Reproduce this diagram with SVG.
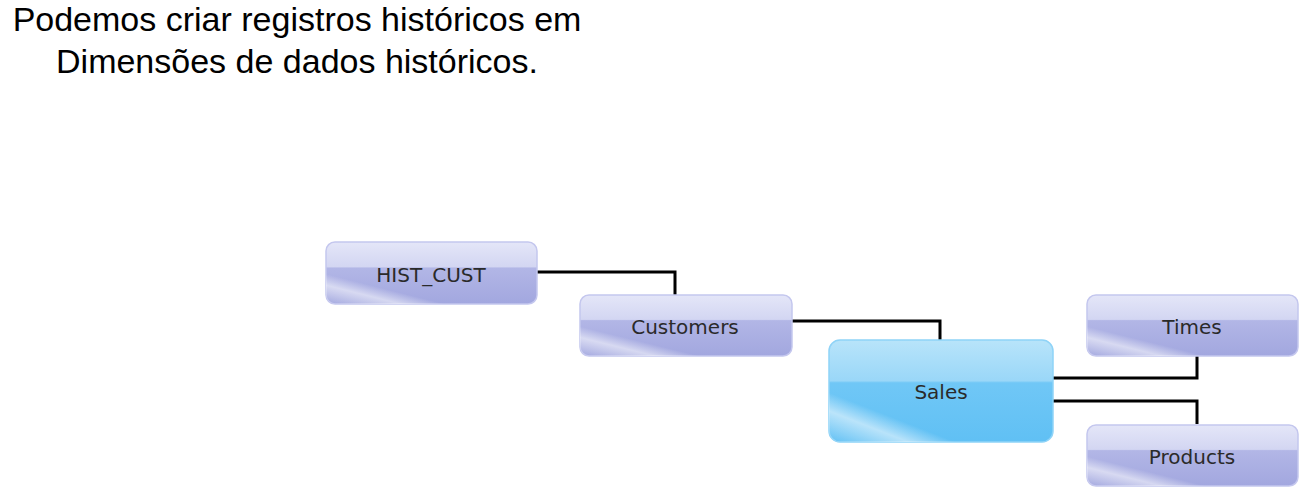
<svg xmlns="http://www.w3.org/2000/svg" width="1300" height="487" viewBox="0 0 1300 487">
<defs>
<linearGradient id="gDim" x1="0" y1="0" x2="0" y2="1">
<stop offset="0" stop-color="#e4e6f8"/>
<stop offset="0.4" stop-color="#d3d6f2"/>
<stop offset="0.42" stop-color="#b2b6e6"/>
<stop offset="1" stop-color="#a2a7df"/>
</linearGradient>
<linearGradient id="gFact" x1="0" y1="0" x2="0" y2="1">
<stop offset="0" stop-color="#b8e4fa"/>
<stop offset="0.4" stop-color="#9ad7f8"/>
<stop offset="0.42" stop-color="#70c7f6"/>
<stop offset="1" stop-color="#60c0f4"/>
</linearGradient>
<linearGradient id="gShine" x1="0" y1="1" x2="0.6" y2="0.3">
<stop offset="0" stop-color="#ffffff" stop-opacity="0"/>
<stop offset="0.25" stop-color="#ffffff" stop-opacity="0.55"/>
<stop offset="0.4" stop-color="#ffffff" stop-opacity="0"/>
<stop offset="1" stop-color="#ffffff" stop-opacity="0"/>
</linearGradient>
</defs>
<style>
.title{font-family:"Liberation Sans",Arial,sans-serif;font-size:34px;fill:#000}
.lbl{font-family:"DejaVu Sans",Verdana,sans-serif;font-size:20px;fill:#2a2a2a;text-anchor:middle}
.dim{fill:url(#gDim);stroke:#c4c7ee;stroke-width:1.5}
.fact{fill:url(#gFact);stroke:#8fd3f7;stroke-width:1.5}
.shine{fill:url(#gShine)}
.conn{fill:none;stroke:#000;stroke-width:3}
</style>
<text class="title" x="297" y="31" text-anchor="middle">Podemos criar registros históricos em</text>
<text class="title" x="297" y="73" text-anchor="middle">Dimensões de dados históricos.</text>
<g id="connectors">
<path class="conn" d="M537 272 H675 V295"/>
<path class="conn" d="M792 321 H940 V340"/>
<path class="conn" d="M1053 378 H1197 V356"/>
<path class="conn" d="M1053 401 H1197 V424"/>
</g>
<g id="hist_cust">
<rect class="dim" x="326" y="242" width="211" height="62" rx="9"/>
<rect class="shine" x="326" y="242" width="211" height="62" rx="9"/>
<text class="lbl" x="431" y="282">HIST_CUST</text>
</g>
<g id="customers">
<rect class="dim" x="580" y="295" width="212" height="61" rx="9"/>
<rect class="shine" x="580" y="295" width="212" height="61" rx="9"/>
<text class="lbl" x="685" y="334">Customers</text>
</g>
<g id="sales">
<rect class="fact" x="829" y="340" width="224" height="102" rx="11"/>
<rect class="shine" x="829" y="340" width="224" height="102" rx="11"/>
<text class="lbl" x="941" y="399">Sales</text>
</g>
<g id="times">
<rect class="dim" x="1087" y="295" width="211" height="61" rx="9"/>
<rect class="shine" x="1087" y="295" width="211" height="61" rx="9"/>
<text class="lbl" x="1192" y="334">Times</text>
</g>
<g id="products">
<rect class="dim" x="1087" y="425" width="211" height="61" rx="9"/>
<rect class="shine" x="1087" y="425" width="211" height="61" rx="9"/>
<text class="lbl" x="1192" y="464">Products</text>
</g>
</svg>
